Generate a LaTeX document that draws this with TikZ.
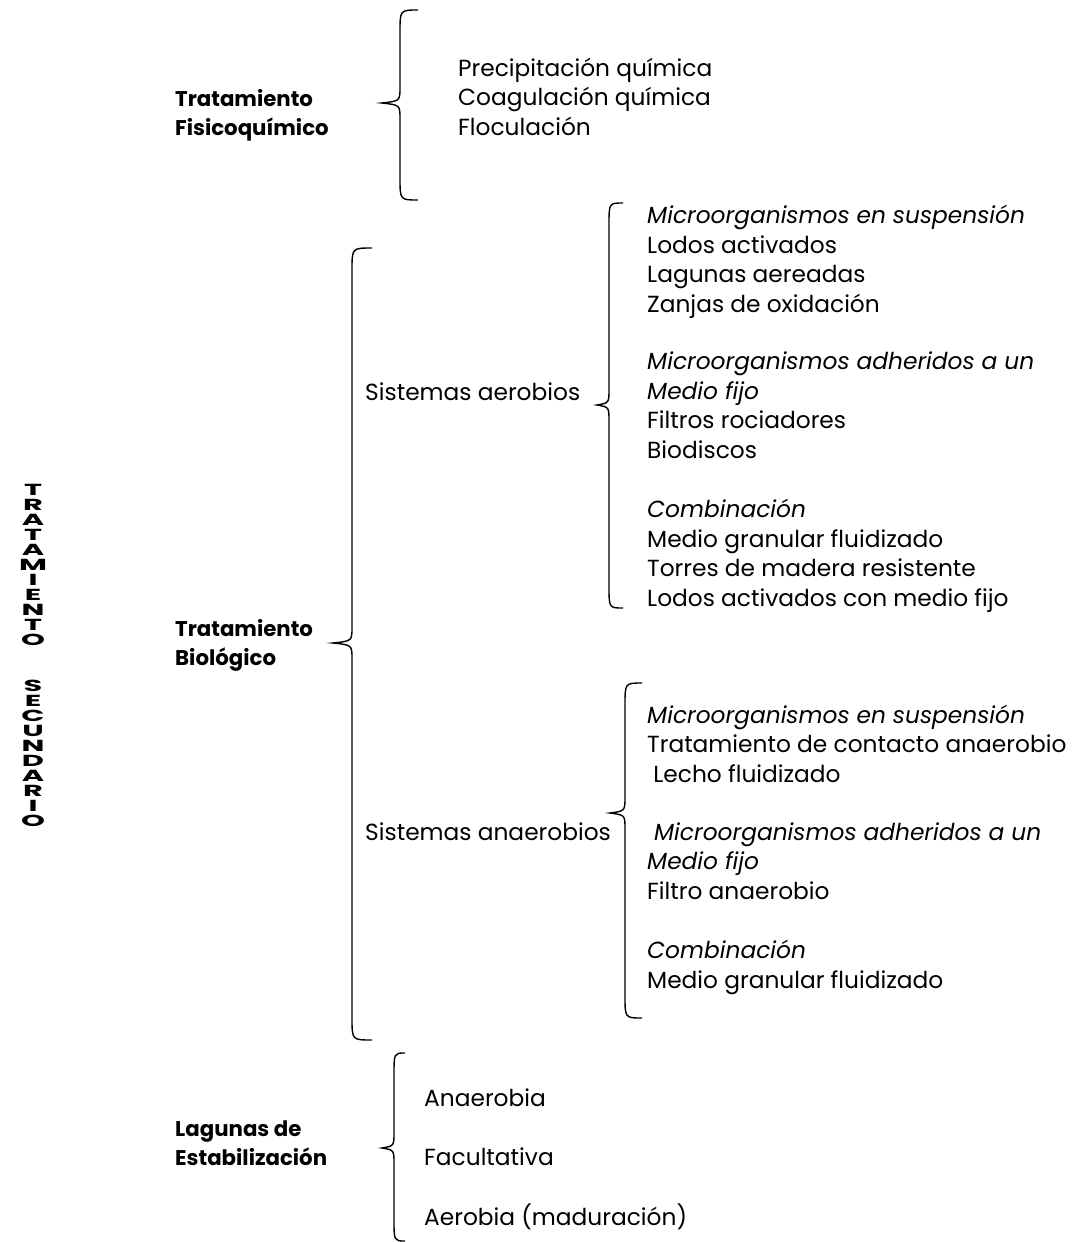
\documentclass[tikz,border=0pt]{standalone}
\usepackage{fontspec}
\setmainfont{Poppins}
% curly brace: x end, x spine, x tip, y top, y tip, y bottom
\newcommand{\curly}[6]{%
  \draw[bracket] (#1,#4) .. controls (#2,#4) .. (#2,#4+22) -- (#2,#5-16)
    .. controls (#2,#5-2) .. (#3,#5) .. controls (#2,#5+2) .. (#2,#5+16)
    -- (#2,#6-22) .. controls (#2,#6) .. (#1,#6);}
\begin{document}
\begin{tikzpicture}[x=1pt,y=-1pt,
    entry/.style={anchor=base west,inner sep=0pt,align=left,font=\fontsize{23.3}{29.5}\selectfont},
    heading/.style={entry,font=\fontsize{21.3}{29}\selectfont\bfseries},
    vletter/.style={inner sep=0pt,font=\fontsize{16}{12}\selectfont\bfseries},
    bracket/.style={line width=1.4pt}]
    \useasboundingbox (0,0) rectangle (1076,1242);

    % vertical title
    \foreach \l [count=\i] in {T,R,A,T,A,M,I,E,N,T,O}
        \node[vletter] (tr\i) at (33,475+15*\i) {\scalebox{1.9}[1.0]{\l}};
    \foreach \l [count=\i] in {S,E,C,U,N,D,A,R,I,O}
        \node[vletter] (sc\i) at (33,671+15*\i) {\scalebox{1.9}[1.0]{\l}};

    % fisicoquimico (base = last line)
    \node[heading] (fisq) at (175,135) {Tratamiento\\Fisicoquímico};
    \curly{418}{400}{382}{10}{103}{200}
    \node[entry] (fisqlist) at (458,135) {Precipitación química\\Coagulación química\\Floculación};

    % biologico
    \node[heading] (bio) at (175,665) {Tratamiento\\Biológico};
    \curly{372}{352}{333}{248}{643}{1040}
    \node[entry] (aer) at (365,400) {Sistemas aerobios};
    \node[entry] (anaer) at (365,840) {Sistemas anaerobios};

    \curly{623}{609}{597}{203}{405}{608}
    \node[entry] (aer1) at (647,312) {\itshape Microorganismos en suspensión\\Lodos activados\\Lagunas aereadas\\Zanjas de oxidación};
    \node[entry] (aer2) at (647,458) {\itshape Microorganismos adheridos a un\\\itshape Medio fijo\\Filtros rociadores\\Biodiscos};
    \node[entry] (aer3) at (647,606) {\itshape Combinación\\Medio granular fluidizado\\Torres de madera resistente\\Lodos activados con medio fijo};

    \curly{642}{625}{610}{683}{813}{1018}
    \node[entry] (an1) at (647,782) {\itshape Microorganismos en suspensión\\Tratamiento de contacto anaerobio\\\ Lecho fluidizado};
    \node[entry] (an2) at (647,899) {\itshape \ Microorganismos adheridos a un\\\itshape Medio fijo\\Filtro anaerobio};
    \node[entry] (an3) at (647,988) {\itshape Combinación\\Medio granular fluidizado};

    % lagunas
    \node[heading] (lag) at (175,1165) {Lagunas de\\Estabilización};
    \curly{405}{394}{382}{1053}{1148}{1241}
    \node[entry] (lag1) at (424,1106) {Anaerobia};
    \node[entry] (lag2) at (424,1165) {Facultativa};
    \node[entry] (lag3) at (424,1225) {Aerobia (maduración)};
\end{tikzpicture}
\end{document}
